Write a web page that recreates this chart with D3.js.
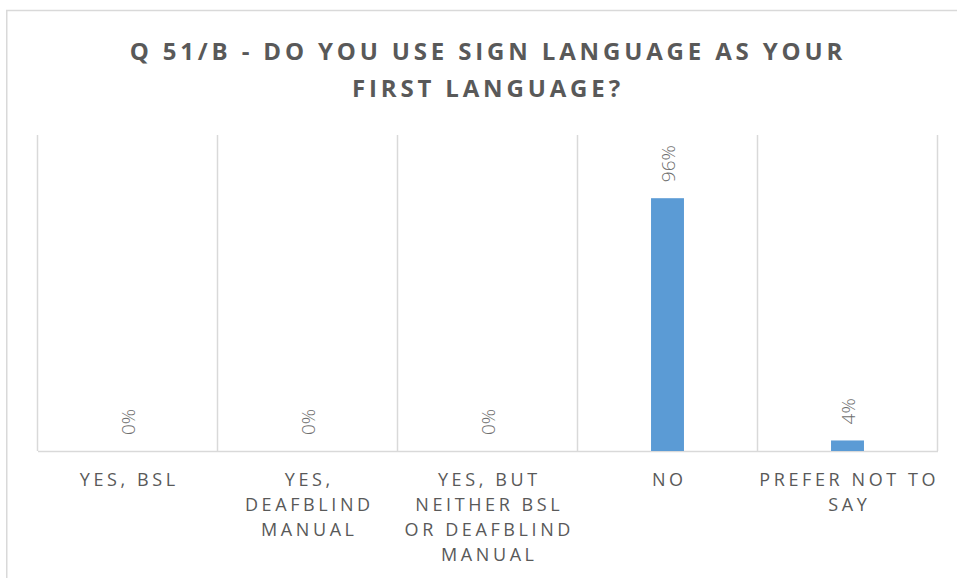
<!DOCTYPE html>
<html>
<head>
<meta charset="utf-8">
<script src="https://cdn.jsdelivr.net/npm/d3@7"></script>
<style>
  html, body { margin: 0; padding: 0; background: #fff; }
  svg { display: block; }
  text { font-family: "Open Sans", "DejaVu Sans", sans-serif; }
</style>
</head>
<body>
<svg id="chart" width="957" height="578"></svg>
<script>
// ---- data ----
const titleLines = ["Q 51/B - DO YOU USE SIGN LANGUAGE AS YOUR", "FIRST LANGUAGE?"];
const categories = [
  "YES, BSL",
  "YES,\nDEAFBLIND\nMANUAL",
  "YES, BUT\nNEITHER BSL\nOR DEAFBLIND\nMANUAL",
  "NO",
  "PREFER NOT TO\nSAY"
];
const values = [0, 0, 0, 0.96, 0.04];
const valueLabels = ["0%", "0%", "0%", "96%", "4%"];
const yMax = 1.2;

// ---- layout ----
const svg = d3.select("#chart");
const W = 957, H = 578;
const plot = { left: 37.5, right: 937.5, top: 135, bottom: 451 };
const grid = "#d9d9d9";
const textCol = "#595959";

// outer chart border
svg.append("path")
  .attr("d", `M6.75,${H} V10.5 H${W}`)
  .attr("fill", "none")
  .attr("stroke", grid)
  .attr("stroke-width", 1.5);

const x = d3.scaleBand().domain(categories).range([plot.left, plot.right]).paddingInner(0).paddingOuter(0);
const y = d3.scaleLinear().domain([0, yMax]).range([plot.bottom, plot.top]);

// vertical category gridlines at band boundaries
const bounds = categories.map(c => x(c)).concat([x(categories[categories.length - 1]) + x.bandwidth()]);
svg.append("g").selectAll("line").data(bounds).join("line")
  .attr("x1", d => d).attr("x2", d => d)
  .attr("y1", y(yMax)).attr("y2", y(0))
  .attr("stroke", grid).attr("stroke-width", 1.5);

// baseline axis
const xAxis = d3.axisBottom(x).tickSize(0).tickFormat("");
const gx = svg.append("g").attr("transform", `translate(0,${y(0)})`).call(xAxis);
gx.select(".domain").attr("stroke", grid).attr("stroke-width", 1.5);

// bars
const barW = x.bandwidth() * 0.183;
svg.append("g").selectAll("rect").data(values).join("rect")
  .attr("x", (d, i) => x(categories[i]) + x.bandwidth() / 2 - barW / 2)
  .attr("width", barW)
  .attr("y", d => y(d))
  .attr("height", d => y(0) - y(d))
  .attr("fill", "#5b9bd5");

// value labels (rotated)
svg.append("g").selectAll("text").data(values).join("text")
  .attr("transform", (d, i) => `translate(${x(categories[i]) + x.bandwidth() / 2},${y(d) - 16}) rotate(-90)`)
  .attr("text-anchor", "start")
  .attr("dominant-baseline", "central")
  .attr("font-size", 19)
  .attr("font-weight", 300)
  .attr("fill", "#6e6e6e")
  .text((d, i) => valueLabels[i]);

// category labels
const ls = 3.6;
const catG = svg.append("g");
categories.forEach(c => {
  const t = catG.append("text")
    .attr("text-anchor", "middle")
    .attr("font-size", 18)
    .attr("letter-spacing", ls)
    .attr("fill", textCol);
  c.split("\n").forEach((line, j) => {
    t.append("tspan")
      .attr("x", x(c) + x.bandwidth() / 2 + ls / 2)
      .attr("y", 486 + j * 25)
      .text(line);
  });
});

// title
const tls = 3.85;
svg.append("g").selectAll("text").data(titleLines).join("text")
  .attr("x", 486 + tls / 2)
  .attr("y", (d, i) => 60 + i * 37)
  .attr("text-anchor", "middle")
  .attr("font-size", 24)
  .attr("font-weight", "bold")
  .attr("letter-spacing", tls)
  .attr("fill", textCol)
  .text(d => d);
</script>
</body>
</html>
